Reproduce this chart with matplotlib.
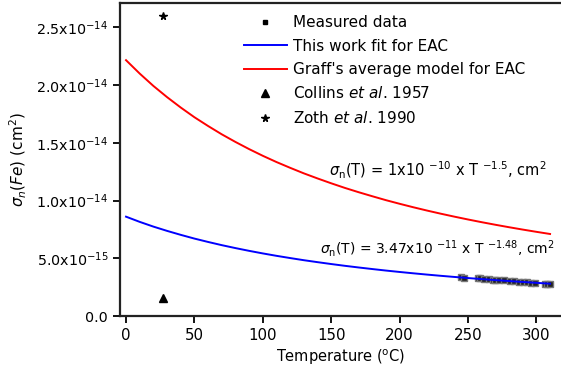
import matplotlib
matplotlib.use("Agg")
import matplotlib.pyplot as plt
from matplotlib.ticker import FixedLocator, FixedFormatter
from matplotlib.lines import Line2D

plt.rcParams['font.family'] = ['DejaVu Sans']
plt.rcParams['mathtext.fontset'] = 'dejavusans'

# Fit curves (Temperature in degC)
t_curve = [0, 10, 20, 30, 40, 50, 60, 70, 80, 90, 100, 110, 120, 130, 140, 150,
           160, 170, 180, 190, 200, 210, 220, 230, 240, 250, 260, 270, 280, 290, 300, 310]
graff = [2.215, 2.099, 1.992, 1.895, 1.805, 1.721, 1.645, 1.573, 1.507, 1.445, 1.387,
         1.333, 1.283, 1.235, 1.191, 1.149, 1.109, 1.072, 1.037, 1.003, 0.9716, 0.9416,
         0.9131, 0.8860, 0.8603, 0.8357, 0.8123, 0.7900, 0.7687, 0.7483, 0.7288, 0.7101]
thiswork = [0.860, 0.815, 0.774, 0.737, 0.7026, 0.6703, 0.6411, 0.6134, 0.5880, 0.5641,
            0.5418, 0.5210, 0.5017, 0.4831, 0.4662, 0.4499, 0.4345, 0.4202, 0.4066,
            0.3935, 0.3813, 0.3697, 0.3586, 0.3481, 0.3382, 0.3286, 0.3196, 0.3109,
            0.3026, 0.2947, 0.2871, 0.2798]
graff = [v * 1e-14 for v in graff]
thiswork = [v * 1e-14 for v in thiswork]

# Measured data
meas_t = [245, 247, 257, 259, 262, 265, 268, 270, 273, 276, 281, 284, 287, 290,
          293, 296, 299, 306, 308, 310]
meas_s = [3.36, 3.32, 3.30, 3.28, 3.22, 3.20, 3.16, 3.12, 3.10, 3.08, 3.02, 3.00,
          2.96, 2.95, 2.92, 2.90, 2.88, 2.80, 2.78, 2.76]
meas_s = [v * 1e-15 for v in meas_s]

collins_t = [27]
collins_s = [1.55e-15]
zoth_t = [27]
zoth_s = [2.6e-14]

yticks = [0.0, 5e-15, 1e-14, 1.5e-14, 2e-14, 2.5e-14]
ytick_labels = ['0.0', r'5.0x10$^{-15}$', r'1.0x10$^{-14}$', r'1.5x10$^{-14}$',
                r'2.0x10$^{-14}$', r'2.5x10$^{-14}$']
xticks = [0, 50, 100, 150, 200, 250, 300]

fig = plt.figure(figsize=(5.61, 3.78), dpi=100)
ax = fig.add_axes([120 / 561, (378 - 316) / 378, 1 - 120 / 561, (316 - 3) / 378])

ax.plot(meas_t, meas_s, linestyle='none', marker='s', ms=5, mfc='#222222', mec='#777777',
        mew=1.0, zorder=2)
ax.plot(t_curve, thiswork, color='#0000ff', lw=1.4, zorder=3)
ax.plot(t_curve, graff, color='#ff0000', lw=1.4, zorder=3)
ax.plot(collins_t, collins_s, linestyle='none', marker='^', ms=5.5, color='black', zorder=4)
ax.plot(zoth_t, zoth_s, linestyle='none', marker='*', ms=5.5, color='black', zorder=4)

handles = [
    Line2D([], [], linestyle='none', marker='s', ms=3.5, color='black'),
    Line2D([], [], color='#0000ff', lw=1.4),
    Line2D([], [], color='#ff0000', lw=1.4),
    Line2D([], [], linestyle='none', marker='^', ms=5.5, color='black'),
    Line2D([], [], linestyle='none', marker='*', ms=5.5, color='black'),
]
labels = ['Measured data', 'This work fit for EAC', "Graff's average model for EAC",
          r'Collins $\mathit{et\ al}$. 1957', r'Zoth $\mathit{et\ al}$. 1990']
ax.legend(handles, labels, loc='upper left', bbox_to_anchor=(0.257, 0.995), frameon=False,
          fontsize=11, handlelength=2.8, handletextpad=0.4, labelspacing=0.55,
          borderaxespad=0.3)

ax.text(228, 1.26e-14, r'$\sigma_{\rm n}$(T) = 1x10 $^{-10}$ x T $^{-1.5}$, cm$^2$',
        ha='center', va='center', fontsize=10.5)
ax.text(228, 5.85e-15, r'$\sigma_{\rm n}$(T) = 3.47x10 $^{-11}$ x T $^{-1.48}$, cm$^2$',
        ha='center', va='center', fontsize=10)

ax.set_xlim(-4.4, 318)
ax.set_ylim(0, 2.71e-14)
ax.xaxis.set_major_locator(FixedLocator(xticks))
ax.yaxis.set_major_locator(FixedLocator(yticks))
ax.yaxis.set_major_formatter(FixedFormatter(ytick_labels))

ax.spines['right'].set_visible(False)
for s in ['left', 'bottom', 'top']:
    ax.spines[s].set_linewidth(1.6)
    ax.spines[s].set_color('#222222')
ax.tick_params(direction='out', length=5, width=1.3, top=False, right=False)
ax.tick_params(axis='y', labelsize=10.3)
ax.tick_params(axis='x', labelsize=10.8)

ax.set_xlabel(r'Temperature ($^{\rm o}$C)', fontsize=10.5, labelpad=3)
ax.set_ylabel(r'$\sigma_n$($\it{Fe}$) (cm$^2$)', fontsize=11, labelpad=5)

fig.savefig('out.png', dpi=100)
